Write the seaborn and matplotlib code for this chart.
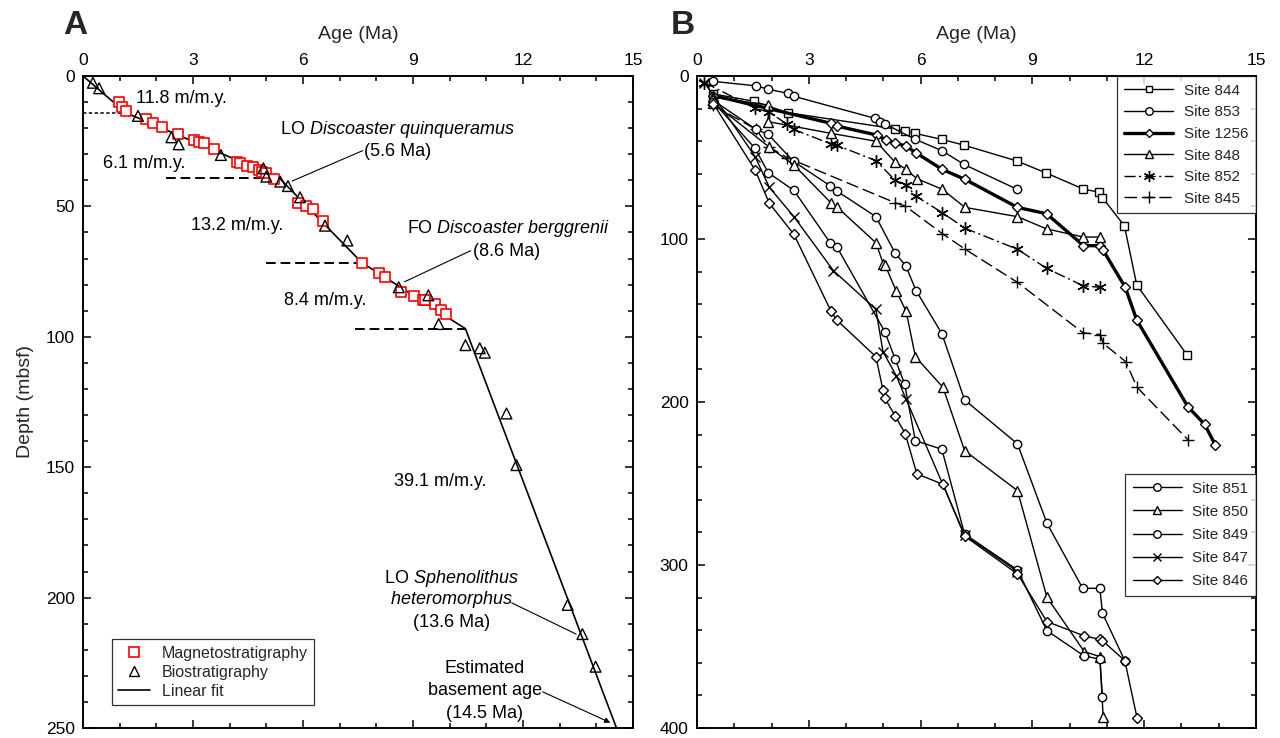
import matplotlib
matplotlib.use("Agg")
import matplotlib.pyplot as plt
from matplotlib.lines import Line2D
import seaborn as sns
import pandas as pd

# ---------------- Panel A data ----------------
mag_age = [0.98, 1.05, 1.17, 1.71, 1.92, 2.15, 2.59, 3.03, 3.17, 3.29, 3.58, 4.21, 4.27,
           4.46, 4.63, 4.81, 4.88, 5.00, 5.22, 5.87, 6.09, 6.26, 6.55, 7.60, 8.07, 8.24,
           8.67, 9.03, 9.26, 9.33, 9.60, 9.76, 9.91]
mag_depth = [10.0, 11.8, 13.4, 16.6, 17.9, 19.7, 22.4, 24.5, 25.2, 25.6, 28.1, 32.8, 33.5,
             34.4, 35.0, 36.0, 36.7, 37.3, 39.5, 48.8, 49.8, 51.0, 55.6, 71.6, 75.7, 76.9,
             82.7, 84.2, 85.9, 85.9, 87.5, 89.7, 91.3]
bio_age = [0.27, 0.44, 1.50, 2.41, 2.61, 3.76, 4.92, 5.00, 5.38, 5.59, 5.92, 6.60, 7.21,
           8.61, 9.42, 9.70, 10.43, 10.82, 10.96, 11.55, 11.82, 13.22, 13.62, 13.98]
bio_depth = [2.6, 4.7, 15.3, 23.5, 26.2, 30.3, 35.4, 38.6, 40.5, 42.2, 46.5, 57.4, 63.1,
             81.0, 84.1, 95.1, 103.2, 104.4, 106.1, 129.4, 149.2, 202.8, 214.0, 226.5]
fit_age = [0.0, 1.17, 5.36, 7.60, 10.43, 14.55]
fit_depth = [0.0, 14.1, 39.2, 71.5, 96.9, 250.0]
break_depth = [14.1, 39.2, 71.6, 96.9]
break_x0 = [0.0, 2.27, 5.00, 7.41]
break_x1 = [1.17, 5.36, 7.60, 10.43]
rate_labels = ["11.8 m/m.y.", "6.1 m/m.y.", "13.2 m/m.y.", "8.4 m/m.y.", "39.1 m/m.y."]

# ---------------- Panel B data ----------------
s844_age = [0.44, 1.53, 2.43, 5.31, 5.58, 5.85, 6.57, 7.16, 8.58, 9.37, 10.37, 10.80, 10.88, 11.47, 11.80, 13.15]
s844_dep = [11.0, 15.5, 22.5, 32.4, 33.5, 35.2, 38.9, 42.4, 52.1, 59.5, 69.4, 71.3, 74.6, 92.0, 128.2, 171.1]
s853_age = [0.44, 1.57, 1.91, 2.43, 2.59, 4.78, 4.92, 5.05, 5.86, 6.57, 7.16, 8.58]
s853_dep = [3.3, 6.0, 8.1, 10.6, 12.4, 26.0, 28.0, 29.5, 38.9, 45.8, 54.2, 69.4]
s1256_age = [0.44, 3.59, 3.75, 4.82, 5.06, 5.31, 5.60, 5.88, 6.58, 7.19, 8.60, 9.38, 10.37,
             10.82, 10.90, 11.49, 11.80, 13.17, 13.62, 13.91]
s1256_dep = [12.0, 29.0, 30.7, 36.2, 39.0, 41.1, 42.9, 47.2, 57.3, 63.4, 80.6, 84.5, 104.0,
             104.2, 107.0, 129.6, 149.7, 202.8, 213.7, 226.4]
s848_age = [0.44, 1.91, 1.91, 3.60, 4.80, 5.31, 5.61, 5.90, 6.58, 7.19, 8.60, 9.38, 10.37, 10.81]
s848_dep = [13.0, 17.8, 28.0, 35.2, 40.0, 52.8, 57.3, 63.0, 69.5, 80.6, 86.3, 93.8, 98.8, 98.8]
s852_age = [0.20, 1.56, 1.93, 2.41, 2.59, 3.59, 3.75, 4.80, 5.31, 5.60, 5.88, 6.58, 7.19,
            8.60, 9.38, 10.37, 10.81]
s852_dep = [4.0, 19.8, 22.2, 29.4, 32.7, 41.7, 42.5, 51.9, 63.8, 66.6, 73.8, 83.8, 93.4,
            106.3, 118.0, 128.8, 129.6]
s845_age = [0.44, 1.58, 1.93, 2.41, 5.31, 5.59, 6.58, 7.19, 8.60, 10.36, 10.82, 10.90, 11.50, 11.81, 13.18]
s845_dep = [18.0, 32.7, 43.5, 50.0, 77.7, 79.8, 96.7, 106.2, 126.6, 157.6, 158.6, 164.0, 175.2, 191.0, 223.3]
s851_age = [0.44, 1.58, 1.91, 2.59, 3.57, 3.75, 4.80, 5.31, 5.60, 5.88, 6.57, 7.18, 8.60,
            9.39, 10.35, 10.81, 10.88, 11.48]
s851_dep = [15.0, 32.7, 35.8, 52.4, 67.3, 70.5, 86.3, 108.4, 116.4, 131.7, 158.0, 198.7, 225.7,
            274.4, 314.3, 314.3, 329.6, 358.7]
s850_age = [0.44, 1.93, 2.60, 3.59, 3.75, 4.80, 5.00, 5.05, 5.34, 5.61, 5.86, 6.60, 7.18,
            8.60, 9.39, 10.39, 10.81, 10.90]
s850_dep = [16.5, 43.5, 54.6, 77.7, 80.2, 102.3, 115.3, 116.0, 131.7, 144.2, 172.2, 191.0, 229.8,
            254.4, 319.8, 353.1, 356.2, 393.4]
s849_age = [0.44, 1.56, 1.91, 2.60, 3.57, 3.75, 5.04, 5.32, 5.57, 5.86, 6.57, 7.18, 8.60,
            9.39, 10.39, 10.81, 10.88]
s849_dep = [16.0, 44.4, 59.3, 70.2, 102.2, 104.7, 156.9, 173.8, 188.9, 223.7, 229.0, 281.0, 303.0,
            340.3, 355.8, 357.8, 380.8]
s847_age = [0.20, 1.56, 1.94, 2.60, 3.66, 4.80, 4.99, 5.35, 5.61, 7.18, 8.60]
s847_dep = [4.0, 49.5, 68.3, 86.3, 119.4, 143.1, 169.1, 184.0, 198.3, 281.5, 304.0]
s846_age = [0.44, 1.56, 1.94, 2.60, 3.59, 3.75, 4.80, 4.99, 5.04, 5.32, 5.59, 5.90, 6.60,
            7.18, 8.60, 9.39, 10.39, 10.81, 10.88, 11.48, 11.81]
s846_dep = [17.0, 57.7, 78.1, 97.1, 144.0, 149.7, 172.2, 192.6, 197.7, 208.6, 219.6, 244.1, 250.5,
            282.2, 305.5, 334.7, 343.5, 345.6, 346.4, 358.7, 394.0]

top_sites = ["Site 844", "Site 853", "Site 1256", "Site 848", "Site 852", "Site 845"]
bottom_sites = ["Site 851", "Site 850", "Site 849", "Site 847", "Site 846"]

# ---------------- style ----------------
sns.set_theme(style="ticks")
plt.rcParams["font.family"] = ["Liberation Sans", "DejaVu Sans"]
plt.rcParams["mathtext.fontset"] = "custom"
plt.rcParams["mathtext.rm"] = "Liberation Sans"
plt.rcParams["mathtext.it"] = "Liberation Sans:italic"

fig = plt.figure(figsize=(12.8, 7.38), dpi=100)
W, H = 1280, 738
axA = fig.add_axes([83 / W, 1 - 728 / H, 550 / W, 652 / H])
axB = fig.add_axes([697 / W, 1 - 728 / H, 559 / W, 652 / H])


def style_axes(ax, ymax, ymajor, yminor):
    ax.set_xlim(0, 15)
    ax.set_ylim(ymax, 0)
    ax.set_xticks(range(0, 16, 3))
    ax.set_xticks(range(0, 16, 1), minor=True)
    ax.set_yticks(range(0, ymax + 1, ymajor))
    ax.set_yticks(range(0, ymax + 1, yminor), minor=True)
    ax.xaxis.tick_top()
    ax.xaxis.set_label_position("top")
    ax.tick_params(which="both", direction="in", top=True, bottom=True, left=True, right=True,
                   labeltop=True, labelbottom=False, labelsize=12.5, colors="black", width=1.1)
    ax.tick_params(which="major", length=6, pad=6)
    ax.tick_params(which="minor", length=3.5)
    for s in ax.spines.values():
        s.set_linewidth(1.4)
        s.set_color("black")
    ax.set_facecolor("white")


style_axes(axA, 250, 50, 10)
style_axes(axB, 400, 100, 20)

# ---------------- Panel A ----------------
sns.lineplot(x=fit_age, y=fit_depth, ax=axA, color="black", lw=1.2, sort=False, estimator=None)
for i, (yv, x0, x1) in enumerate(zip(break_depth, break_x0, break_x1)):
    ls = (0, (2.2, 1.6)) if i == 0 else (0, (5, 2.5))
    axA.plot([x0, x1], [yv, yv], color="black", lw=1.1 if i == 0 else 1.4, ls=ls)
sns.scatterplot(x=mag_age, y=mag_depth, ax=axA, marker="s", s=42, facecolor="white",
                edgecolor="#ff0000", linewidth=1.2, zorder=4)
sns.scatterplot(x=bio_age, y=bio_depth, ax=axA, marker="^", s=60, facecolor="none",
                edgecolor="black", linewidth=1.0, zorder=5)

tk = dict(fontsize=13, color="black")
axA.text(1.45, 8.8, rate_labels[0], ha="left", va="center", **tk)
axA.text(0.55, 33.6, rate_labels[1], ha="left", va="center", **tk)
axA.text(4.2, 57.5, rate_labels[2], ha="center", va="center", **tk)
axA.text(6.6, 85.9, rate_labels[3], ha="center", va="center", **tk)
axA.text(9.75, 155.6, rate_labels[4], ha="center", va="center", **tk)

axA.text(8.57, 20.4, r"LO $\it{Discoaster\ quinqueramus}$", ha="center", va="center", **tk)
axA.text(8.57, 29.0, "(5.6 Ma)", ha="center", va="center", **tk)
axA.plot([7.63, 5.70], [28.6, 40.3], color="black", lw=0.8)
axA.text(11.6, 58.4, r"FO $\it{Discoaster\ berggrenii}$", ha="center", va="center", **tk)
axA.text(11.55, 67.4, "(8.6 Ma)", ha="center", va="center", **tk)
axA.plot([10.57, 8.77], [67.0, 78.9], color="black", lw=0.8)
axA.text(10.04, 192.6, r"LO $\it{Sphenolithus}$", ha="center", va="center", **tk)
axA.text(10.04, 200.9, r"$\it{heteromorphus}$", ha="center", va="center", **tk)
axA.text(10.04, 209.6, "(13.6 Ma)", ha="center", va="center", **tk)
axA.plot([11.69, 13.45], [202.0, 214.0], color="black", lw=0.8)
axA.text(10.96, 227.1, "Estimated", ha="center", va="center", **tk)
axA.text(10.96, 235.7, "basement age", ha="center", va="center", **tk)
axA.text(10.96, 244.4, "(14.5 Ma)", ha="center", va="center", **tk)
axA.annotate("", xy=(14.45, 248.4), xytext=(12.47, 235.7),
             arrowprops=dict(arrowstyle="-|>", color="black", lw=0.8, mutation_scale=8))

legA_handles = [
    Line2D([], [], ls="none", marker="s", ms=6.5, mfc="white", mec="#ff0000", mew=1.2),
    Line2D([], [], ls="none", marker="^", ms=7, mfc="none", mec="black", mew=1.0),
    Line2D([], [], color="black", lw=1.2),
]
legA = axA.legend(legA_handles, ["Magnetostratigraphy", "Biostratigraphy", "Linear fit"],
                  loc="lower left", bbox_to_anchor=(0.052, 0.035), borderaxespad=0,
                  fontsize=11.5, frameon=True, fancybox=False, handlelength=2.0,
                  handletextpad=0.75, labelspacing=0.25, borderpad=0.4)
legA.get_frame().set_edgecolor("black")
legA.get_frame().set_linewidth(0.9)

# ---------------- Panel B ----------------
series = {
    "Site 844": (s844_age, s844_dep, dict(marker="s", ms=5.5, lw=1.0)),
    "Site 853": (s853_age, s853_dep, dict(marker="o", ms=6, lw=1.0)),
    "Site 1256": (s1256_age, s1256_dep, dict(marker="D", ms=5, lw=2.4)),
    "Site 848": (s848_age, s848_dep, dict(marker="^", ms=7, lw=1.0)),
    "Site 852": (s852_age, s852_dep, dict(marker=(6, 2, 0), ms=9, lw=1.0, dashes=(8, 2.5, 1.5, 2.5))),
    "Site 845": (s845_age, s845_dep, dict(marker="+", ms=9, lw=1.0, dashes=(9, 3.5))),
    "Site 851": (s851_age, s851_dep, dict(marker="o", ms=6, lw=1.0)),
    "Site 850": (s850_age, s850_dep, dict(marker="^", ms=7, lw=1.0)),
    "Site 849": (s849_age, s849_dep, dict(marker="o", ms=6, lw=1.0)),
    "Site 847": (s847_age, s847_dep, dict(marker="x", ms=7, lw=1.0)),
    "Site 846": (s846_age, s846_dep, dict(marker="D", ms=5, lw=1.0)),
}
handles = {}
for name, (ages, deps, st) in series.items():
    df = pd.DataFrame({"age": ages, "depth": deps})
    n_before = len(axB.lines)
    sns.lineplot(data=df, x="age", y="depth", ax=axB, sort=False, estimator=None,
                 color="black", lw=st["lw"], marker=st["marker"], ms=st["ms"],
                 mfc="white", mec="black", mew=1.0)
    ln = axB.lines[n_before]
    h = Line2D([], [], color="black", lw=st["lw"], marker=st["marker"], ms=st["ms"] * 0.9,
               mfc="white", mec="black", mew=1.0, ls="-")
    if "dashes" in st:
        ln.set_dashes(st["dashes"])
        h.set_dashes(st["dashes"])
    handles[name] = h

# axis labels (after seaborn, which sets its own)
for ax in (axA, axB):
    ax.set_xlabel("Age (Ma)", fontsize=14, labelpad=10)
axA.set_ylabel("Depth (mbsf)", fontsize=14, labelpad=8)
axB.set_ylabel("")

leg_kw = dict(fontsize=11, frameon=True, fancybox=False, handlelength=3.2, handletextpad=0.7,
              borderpad=0.5, borderaxespad=0)
legB1 = axB.legend([handles[n] for n in top_sites], top_sites, loc="upper right",
                   bbox_to_anchor=(1.0, 1.0), labelspacing=0.5, **leg_kw)
legB1.get_frame().set_edgecolor("black")
legB1.get_frame().set_linewidth(0.9)
axB.add_artist(legB1)
legB2 = axB.legend([handles[n] for n in bottom_sites], bottom_sites, loc="upper right",
                   bbox_to_anchor=(1.0, 1 - (474 - 76) / 652), labelspacing=0.6, **leg_kw)
legB2.get_frame().set_edgecolor("black")
legB2.get_frame().set_linewidth(0.9)

# panel letters
fig.text(75 / W, 1 - 25 / H, "A", fontsize=24, fontweight="bold", ha="center", va="center")
fig.text(683 / W, 1 - 25 / H, "B", fontsize=24, fontweight="bold", ha="center", va="center")

fig.savefig("out.png", dpi=100, facecolor="white")
